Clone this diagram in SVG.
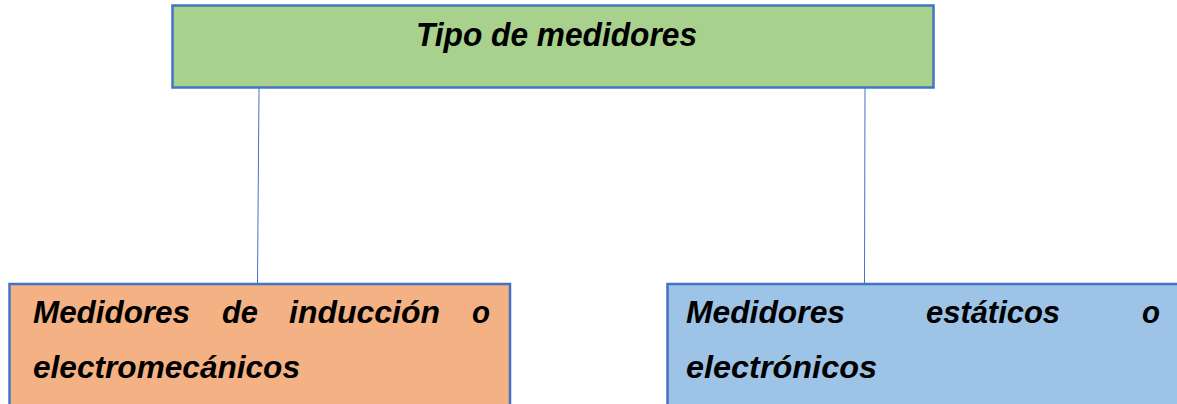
<svg xmlns="http://www.w3.org/2000/svg" width="1177" height="404" viewBox="0 0 1177 404">
<style>
.box{stroke:#4472C4;stroke-width:2.5}
.t{font-family:"Liberation Sans",Arial,sans-serif;font-weight:bold;font-style:italic;fill:#000}
.big{font-size:33px}
.lab{font-size:32px}
.conn{stroke:#4472C4;stroke-width:1;fill:none}
</style>
<rect width="1177" height="404" fill="#ffffff"/>
<g id="connectors">
<line class="conn" x1="259" y1="88" x2="257.5" y2="283"/>
<line class="conn" x1="865" y1="88" x2="864.5" y2="283"/>
</g>
<g id="node-top">
<rect class="box" x="172.5" y="5.5" width="761" height="82" fill="#A9D18E"/>
<text class="t big" x="416" y="46" textLength="281" lengthAdjust="spacingAndGlyphs">Tipo de medidores</text>
</g>
<g id="node-induccion">
<rect class="box" x="9.5" y="284" width="500.5" height="124" fill="#F4B183"/>
<text class="t lab" y="323"><tspan x="33" textLength="157" lengthAdjust="spacingAndGlyphs">Medidores</tspan><tspan x="222" textLength="36" lengthAdjust="spacingAndGlyphs">de</tspan><tspan x="289" textLength="151" lengthAdjust="spacingAndGlyphs">inducción</tspan><tspan x="472" textLength="18" lengthAdjust="spacingAndGlyphs">o</tspan></text>
<text class="t lab" x="33" y="378" textLength="267" lengthAdjust="spacingAndGlyphs">electromecánicos</text>
</g>
<g id="node-estaticos">
<rect class="box" x="667.5" y="284" width="520" height="124" fill="#9DC3E6"/>
<text class="t lab" y="323"><tspan x="686" textLength="159" lengthAdjust="spacingAndGlyphs">Medidores</tspan><tspan x="926" textLength="134" lengthAdjust="spacingAndGlyphs">estáticos</tspan><tspan x="1142" textLength="18" lengthAdjust="spacingAndGlyphs">o</tspan></text>
<text class="t lab" x="686" y="378" textLength="191" lengthAdjust="spacingAndGlyphs">electrónicos</text>
</g>
</svg>
